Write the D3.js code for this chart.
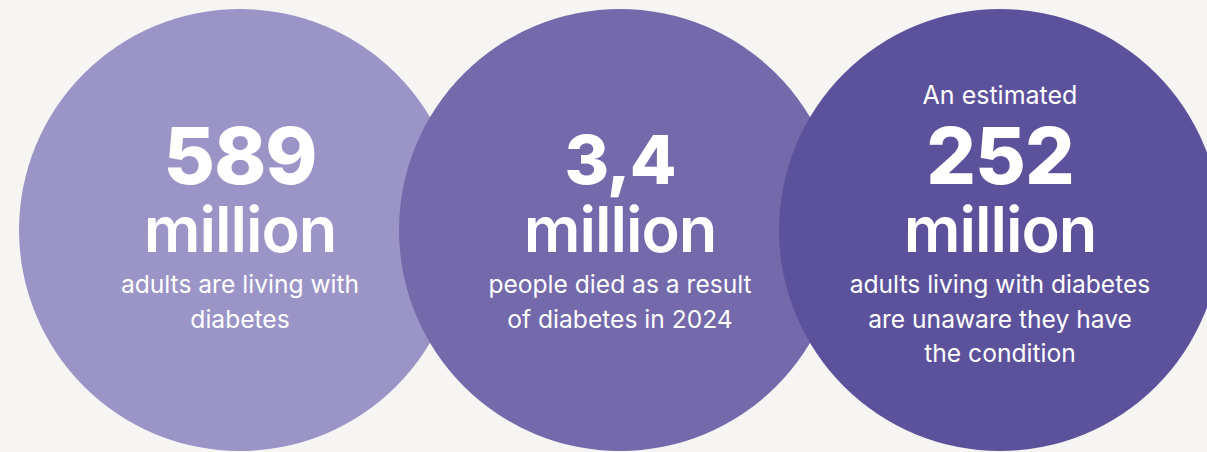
<!DOCTYPE html>
<html>
<head>
<meta charset="utf-8">
<script src="https://cdn.jsdelivr.net/npm/d3@7"></script>
<style>
  body { margin: 0; background: #f6f5f3; }
  svg { display: block; }
  text { font-family: Inter, "Noto Sans", sans-serif; fill: #fff; }
</style>
</head>
<body>
<svg width="1207" height="452"></svg>
<script>
// data
const keys = ["living", "deaths", "unaware"];
const preLabels = ["", "", "An estimated"];
const numbers = ["589", "3,4", "252"];
const units = ["million", "million", "million"];
const descriptions = [
  ["adults are living with", "diabetes"],
  ["people died as a result", "of diabetes in 2024"],
  ["adults living with diabetes", "are unaware they have", "the condition"]
];

const colors = ["#9b94c7", "#7369ab", "#5c529c"];
const numberSize = [79, 68, 78];

const svg = d3.select("svg");
const width = 1207, height = 452;

svg.append("rect")
  .attr("width", width)
  .attr("height", height)
  .attr("fill", "#f6f5f3");

// x positions of circles
const x = d3.scalePoint()
  .domain(keys)
  .range([240, 1000]);

const r = 221, cy = 230;

const color = d3.scaleOrdinal().domain(keys).range(colors);

const items = keys.map((k, i) => ({
  key: k, pre: preLabels[i], num: numbers[i], unit: units[i],
  desc: descriptions[i], nsize: numberSize[i]
}));

const g = svg.selectAll(".stat")
  .data(items)
  .enter().append("g")
  .attr("class", "stat")
  .attr("transform", d => "translate(" + x(d.key) + ",0)");

g.append("circle")
  .attr("cx", 0)
  .attr("cy", cy)
  .attr("r", r)
  .attr("fill", d => color(d.key));

g.append("text")
  .attr("y", 104)
  .attr("text-anchor", "middle")
  .style("font-size", "25px")
  .style("font-weight", 400)
  .text(d => d.pre);

g.append("text")
  .attr("y", 184)
  .attr("text-anchor", "middle")
  .style("font-size", d => d.nsize + "px")
  .style("font-weight", 800)
  .style("letter-spacing", "-1px")
  .text(d => d.num);

g.append("text")
  .attr("y", 252)
  .attr("text-anchor", "middle")
  .style("font-size", "63px")
  .style("font-weight", 600)
  .style("letter-spacing", "-1px")
  .text(d => d.unit);

g.selectAll(".desc")
  .data(d => d.desc)
  .enter().append("text")
  .attr("class", "desc")
  .attr("y", (d, i) => 293 + i * 34.5)
  .attr("text-anchor", "middle")
  .style("font-size", "24.6px")
  .style("font-weight", 400)
  .text(d => d);
</script>
</body>
</html>
